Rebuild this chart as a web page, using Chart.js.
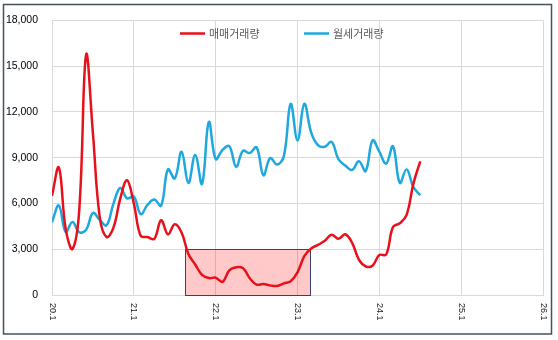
<!DOCTYPE html>
<html>
<head>
<meta charset="utf-8">
<script src="https://cdn.jsdelivr.net/npm/chart.js@4/dist/chart.umd.min.js"></script>
<style>
  html, body { margin: 0; padding: 0; background: #ffffff; }
  #wrap { position: relative; width: 558px; height: 340px; }
</style>
</head>
<body>
<div id="wrap"><canvas id="c" width="558" height="340"></canvas></div>
<script>
// ---- data (monthly, 2020.1 – 2024.7) ----
const seriesNames = ['매매거래량', '월세거래량'];
const xTickLabels = ['20.1', '21.1', '22.1', '23.1', '24.1', '25.1', '26.1'];
const saleVolume = [
  6500, 8350, 4350, 3020, 5600, 15750, 10600, 5100, 3800, 4400, 6300, 7520,
  6000, 3880, 3800, 3680, 4900, 3980, 4640, 4100, 2680, 2000, 1320, 1110,
  1130, 860, 1620, 1820, 1760, 1100, 680, 720, 630, 590, 760, 900,
  1480, 2550, 3050, 3280, 3550, 3950, 3680, 3980, 3430, 2320, 1880, 1920,
  2620, 2650, 4450, 4700, 5250, 7300, 8760
];
const rentVolume = [
  4770, 5870, 4130, 4790, 4110, 4280, 5380, 4920, 4570, 5970, 7010, 6330,
  6450, 5300, 5900, 6260, 5850, 8230, 7640, 9390, 7340, 9180, 7280, 11340,
  8910, 9500, 9750, 8400, 9450, 9300, 9680, 7850, 8970, 8550, 9100, 12520,
  10130, 12520, 10660, 9820, 9710, 10030, 8910, 8480, 8190, 8760, 8120, 10130,
  9390, 8610, 9750, 7340, 8230, 7070, 6540
];
// highlighted period (month index from 20.1) and value band
const highlightMonths = [19.5, 37.9];
const highlightValues = [0, 3000];

const toPoints = arr => arr.map((v, i) => ({ x: i, y: v }));

const frameAndLabels = {
  id: 'frameAndLabels',
  beforeDatasetsDraw(chart) {
    const { ctx, scales: { x, y } } = chart;
    const x0 = x.getPixelForValue(highlightMonths[0]);
    const x1 = x.getPixelForValue(highlightMonths[1]);
    const y0 = y.getPixelForValue(highlightValues[1]);
    const y1 = y.getPixelForValue(highlightValues[0]);
    ctx.save();
    ctx.fillStyle = 'rgba(255, 40, 40, 0.25)';
    ctx.fillRect(x0, y0, x1 - x0, y1 - y0);
    ctx.strokeStyle = '#3b3f6e';
    ctx.lineWidth = 1;
    ctx.strokeRect(Math.round(x0) + 0.5, Math.round(y0) + 0.5, Math.round(x1 - x0), Math.round(y1 - y0));
    ctx.restore();
  },
  afterDraw(chart) {
    const { ctx, scales: { x } } = chart;
    ctx.save();
    // x tick labels, rotated to read top-to-bottom
    ctx.fillStyle = '#1a1a1a';
    ctx.font = '9px "Liberation Sans", Arial, sans-serif';
    ctx.textAlign = 'left';
    ctx.textBaseline = 'middle';
    x.ticks.forEach(t => {
      const label = xTickLabels[Math.round(t.value / 12)];
      if (label === undefined) return;
      const px = x.getPixelForValue(t.value);
      ctx.save();
      ctx.translate(px, x.bottom - 37);
      ctx.rotate(Math.PI / 2);
      ctx.fillText(label, 0, 0);
      ctx.restore();
    });
    // legend inside plot
    ctx.font = '11px "Noto Sans CJK KR", sans-serif';
    ctx.textBaseline = 'middle';
    let lx = 180;
    const ly = 33.5;
    chart.data.datasets.forEach((ds, i) => {
      ctx.strokeStyle = ds.borderColor;
      ctx.lineWidth = 2.5;
      ctx.beginPath();
      ctx.moveTo(lx, ly);
      ctx.lineTo(lx + 25, ly);
      ctx.stroke();
      ctx.fillStyle = '#595959';
      ctx.fillText(ds.label, lx + 29, ly);
      lx += 124;
    });
    // outer frame
    ctx.strokeStyle = '#46525e';
    ctx.lineWidth = 1.5;
    ctx.strokeRect(3.5, 4.5, 548, 329.5);
    ctx.restore();
  }
};

new Chart(document.getElementById('c'), {
  type: 'line',
  data: {
    datasets: [
      {
        label: seriesNames[0],
        data: toPoints(saleVolume),
        borderColor: '#e8101a',
        borderWidth: 2.5,
        pointRadius: 0,
        tension: 0.4,
        fill: false
      },
      {
        label: seriesNames[1],
        data: toPoints(rentVolume),
        borderColor: '#1ea8dd',
        borderWidth: 2.5,
        pointRadius: 0,
        tension: 0.4,
        fill: false
      }
    ]
  },
  options: {
    responsive: false,
    animation: false,
    events: [],
    layout: { padding: { left: 0, right: 15, top: 11, bottom: 0 } },
    plugins: { legend: { display: false }, tooltip: { enabled: false } },
    scales: {
      x: {
        type: 'linear',
        min: 0,
        max: 72,
        ticks: { stepSize: 12, display: false },
        grid: { color: '#d9d9d9', lineWidth: 1, drawTicks: false },
        border: { color: '#d9d9d9' },
        afterFit(scale) { scale.height = 45; }
      },
      y: {
        min: 0,
        max: 18000,
        ticks: {
          stepSize: 3000,
          padding: 14,
          color: '#000000',
          font: { family: '"Liberation Sans", Arial, sans-serif', size: 10.5 },
          callback: v => v.toLocaleString('en-US')
        },
        grid: { color: '#d9d9d9', lineWidth: 1, drawTicks: false },
        border: { color: '#d9d9d9' },
        afterFit(scale) { scale.width = 52; }
      }
    }
  },
  plugins: [frameAndLabels]
});
</script>
</body>
</html>
